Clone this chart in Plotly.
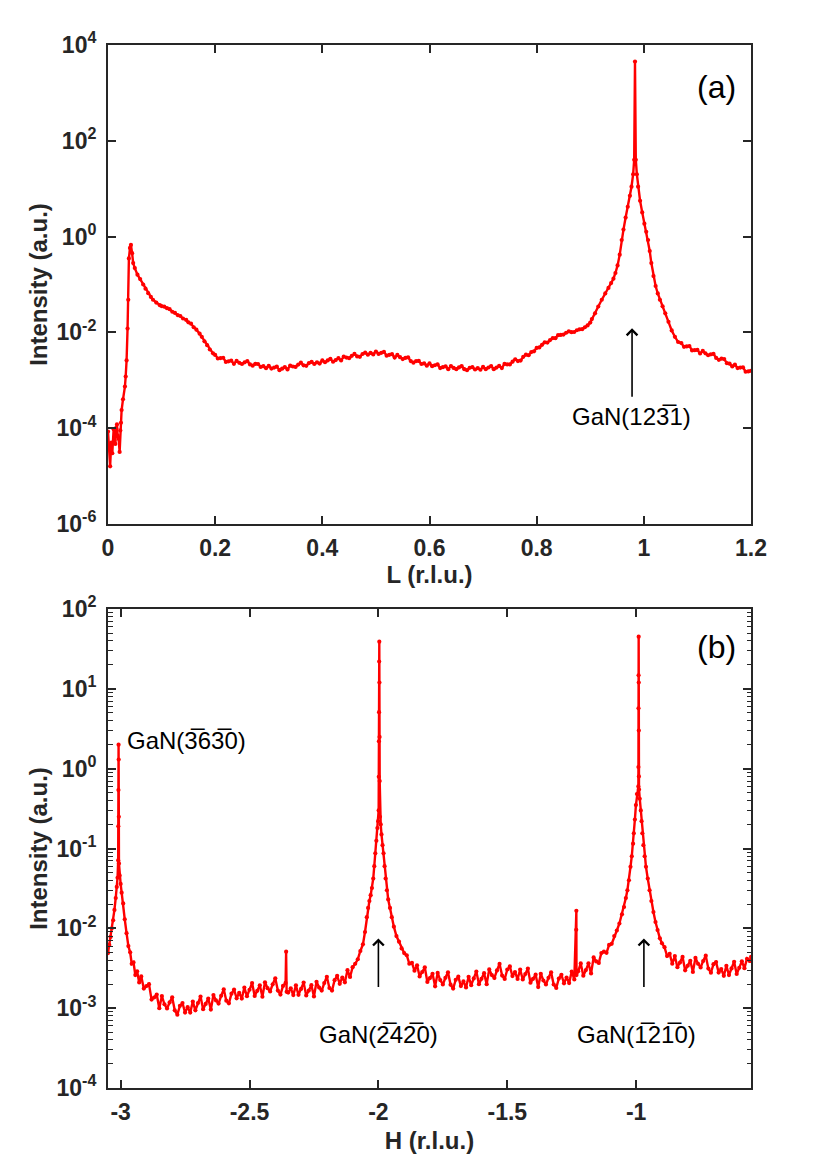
import plotly.graph_objects as go

# ---------------- Panel (a): L scan ----------------
L_a = [
    0.000, 0.002, 0.004, 0.006, 0.008, 0.0105, 0.012, 0.0136, 0.015, 0.0167,
    0.018, 0.0198, 0.0217, 0.023, 0.0242, 0.0254, 0.028, 0.0316, 0.033, 0.0347,
    0.0365, 0.0378, 0.039, 0.041, 0.0428, 0.045, 0.047, 0.050, 0.055, 0.060,
    0.0657, 0.070, 0.075, 0.080, 0.084, 0.090, 0.0967, 0.100, 0.105, 0.110,
    0.115, 0.120, 0.125, 0.130, 0.135, 0.140, 0.146, 0.150, 0.155, 0.160,
    0.165, 0.171, 0.175, 0.180, 0.185, 0.190, 0.196,
    0.200, 0.205, 0.210, 0.215, 0.220, 0.225, 0.230, 0.235, 0.240, 0.245,
    0.250, 0.255, 0.260, 0.265, 0.270, 0.275, 0.280, 0.285, 0.290, 0.295,
    0.300, 0.305, 0.310, 0.315, 0.320, 0.325, 0.330, 0.335, 0.340, 0.345,
    0.350, 0.355, 0.360, 0.365, 0.370, 0.375, 0.380, 0.385, 0.390, 0.395,
    0.400, 0.405, 0.410, 0.415, 0.420, 0.425, 0.430, 0.435, 0.440, 0.445,
    0.450, 0.455, 0.460, 0.465, 0.470, 0.475, 0.480, 0.485, 0.490, 0.495,
    0.500, 0.505, 0.510, 0.515, 0.520, 0.525, 0.530, 0.535, 0.540, 0.545,
    0.550, 0.555, 0.560, 0.565, 0.570, 0.575, 0.580, 0.585, 0.590, 0.595,
    0.600, 0.605, 0.610, 0.615, 0.620, 0.625, 0.630, 0.635, 0.640, 0.645,
    0.650, 0.655, 0.660, 0.665, 0.670, 0.675, 0.680, 0.685, 0.690, 0.695,
    0.700, 0.705, 0.710, 0.715, 0.720, 0.725, 0.730, 0.735, 0.740, 0.745,
    0.750, 0.755, 0.760, 0.765, 0.770, 0.775, 0.780, 0.785, 0.790, 0.795,
    0.800, 0.805, 0.810, 0.815, 0.820, 0.825, 0.830, 0.835, 0.840, 0.845,
    0.850, 0.855, 0.860, 0.865, 0.870, 0.875, 0.880, 0.885, 0.890, 0.895,
    0.900, 0.903, 0.909, 0.915, 0.9215, 0.928, 0.934, 0.939, 0.9433, 0.947,
    0.951, 0.955, 0.9587, 0.962, 0.966, 0.970, 0.974, 0.977, 0.980, 0.982,
    0.9835, 0.985, 0.987, 0.9893, 0.993, 0.997, 1.001, 1.0045, 1.0079, 1.011,
    1.014, 1.018, 1.022, 1.026, 1.030, 1.035, 1.040, 1.046, 1.052, 1.058,
    1.064, 1.070, 1.075, 1.080, 1.085, 1.090, 1.095, 1.100, 1.105, 1.110,
    1.115, 1.120, 1.125, 1.130, 1.135, 1.140, 1.145, 1.150, 1.155, 1.160,
    1.165, 1.170, 1.175, 1.180, 1.185, 1.190, 1.195, 1.200,
]
I_a = [
    8.5e-5, 4.0e-5, 1.6e-5, 5.0e-5, 3.0e-5, 9.5e-5, 5.5e-5, 4.7e-5, 1.0e-4, 1.2e-4,
    7.0e-5, 6.0e-5, 3.2e-5, 9.0e-5, 1.3e-4, 2.4e-4, 4.0e-4, 7.4e-4, 1.2e-3, 2.6e-3,
    1.2e-2, 4.8e-2, 3.5e-1, 5.8e-1, 6.7e-1, 4.5e-1, 2.8e-1, 2.2e-1, 1.6e-1, 1.3e-1,
    1.0e-1, 8.2e-2, 6.6e-2, 5.5e-2, 4.8e-2, 4.2e-2, 3.7e-2, 3.55e-2, 3.45e-2, 3.2e-2,
    3.05e-2, 2.7e-2, 2.55e-2, 2.3e-2, 2.2e-2, 1.95e-2, 1.82e-2, 1.62e-2, 1.52e-2, 1.28e-2,
    1.14e-2, 9.4e-3, 8.1e-3, 6.5e-3, 5.4e-3, 4.4e-3, 3.65e-3,
    3.39e-3, 2.85e-3, 2.91e-3, 2.96e-3, 2.42e-3, 2.49e-3, 2.57e-3, 2.21e-3, 2.54e-3, 2.32e-3,
    2.19e-3, 2.37e-3, 2.51e-3, 2.15e-3, 2.02e-3, 2.21e-3, 2.19e-3, 1.9e-3, 1.97e-3, 1.79e-3,
    2.01e-3, 1.76e-3, 1.84e-3, 1.93e-3, 1.63e-3, 1.75e-3, 1.89e-3, 1.69e-3, 2.03e-3, 1.94e-3,
    1.9e-3, 2.13e-3, 2.33e-3, 2.05e-3, 2.01e-3, 2.29e-3, 2.42e-3, 2.19e-3, 2.37e-3, 2.23e-3,
    2.6e-3, 2.38e-3, 2.6e-3, 2.81e-3, 2.44e-3, 2.65e-3, 2.89e-3, 2.59e-3, 3.13e-3, 2.98e-3,
    2.9e-3, 3.24e-3, 3.55e-3, 3.15e-3, 3.09e-3, 3.54e-3, 3.77e-3, 3.42e-3, 3.72e-3, 3.47e-3,
    3.99e-3, 3.55e-3, 3.75e-3, 3.92e-3, 3.27e-3, 3.4e-3, 3.51e-3, 2.98e-3, 3.39e-3, 3.04e-3,
    2.78e-3, 2.93e-3, 3.02e-3, 2.52e-3, 2.33e-3, 2.52e-3, 2.54e-3, 2.19e-3, 2.25e-3, 2.02e-3,
    2.25e-3, 1.97e-3, 2.06e-3, 2.16e-3, 1.8e-3, 1.88e-3, 1.96e-3, 1.7e-3, 1.98e-3, 1.81e-3,
    1.71e-3, 1.86e-3, 1.98e-3, 1.71e-3, 1.63e-3, 1.82e-3, 1.89e-3, 1.68e-3, 1.8e-3, 1.66e-3,
    1.9e-3, 1.71e-3, 1.85e-3, 1.98e-3, 1.71e-3, 1.84e-3, 2.0e-3, 1.8e-3, 2.2e-3, 2.14e-3,
    2.14e-3, 2.45e-3, 2.75e-3, 2.52e-3, 2.58e-3, 3.09e-3, 3.42e-3, 3.33e-3, 3.89e-3, 4.03e-3,
    4.74e-3, 4.85e-3, 5.5e-3, 6.2e-3, 6.14e-3, 6.9e-3, 7.62e-3, 7.58e-3, 8.74e-3, 8.85e-3,
    9.02e-3, 9.84e-3, 1.05e-2, 1.01e-2, 1.02e-2, 1.11e-2, 1.16e-2, 1.17e-2, 1.28e-2, 1.4e-2,
    1.6e-2, 1.9e-2, 2.5e-2, 3.47e-2, 4.8e-2, 6.5e-2, 8.5e-2, 1.07e-1, 1.32e-1, 1.74e-1,
    2.5e-1, 4.2e-1, 8.5e-1, 1.4, 2.5, 4.2, 7.1, 1.1e1, 2.0e1, 4.0e1,
    4.5e3, 4.0e1, 2.0e1, 1.1e1, 5.6, 3.2, 1.86, 1.26, 8.5e-1, 5.0e-1,
    2.8e-1, 1.5e-1, 9.3e-2, 6.5e-2, 4.8e-2, 3.5e-2, 2.5e-2, 1.66e-2, 1.1e-2, 8.1e-3,
    6.3e-3, 6.0e-3, 5.0e-3, 5.1e-3, 5.2e-3, 4.2e-3, 4.26e-3, 4.3e-3, 3.63e-3, 4.1e-3,
    3.65e-3, 3.33e-3, 3.48e-3, 3.55e-3, 2.93e-3, 2.67e-3, 2.83e-3, 2.78e-3, 2.28e-3, 2.22e-3,
    1.95e-3, 2.12e-3, 1.8e-3, 1.84e-3, 1.87e-3, 1.51e-3, 1.53e-3, 1.58e-3,
]

# ---------------- Panel (b): H scan ----------------
H_b = [
    -3.049, -3.044, -3.039, -3.034, -3.029, -3.024, -3.019, -3.015, -3.012, -3.0095,
    -3.009, -3.0085, -3.008, -3.0075, -3.007, -3.0065, -3.004, -3.000, -2.996, -2.990,
    -2.984, -2.977, -2.970, -2.963, -2.957, -2.950, -2.943, -2.936, -2.928,
    -2.920, -2.910, -2.900, -2.890, -2.880, -2.870, -2.860, -2.850, -2.840, -2.830,
    -2.820, -2.810, -2.800, -2.790, -2.780, -2.770, -2.760, -2.750, -2.740, -2.730,
    -2.720, -2.710, -2.700, -2.690, -2.680, -2.670, -2.660, -2.650, -2.640, -2.630,
    -2.620, -2.610, -2.600, -2.590, -2.580, -2.570, -2.560, -2.550, -2.540, -2.530,
    -2.520, -2.510, -2.500, -2.490, -2.480, -2.470, -2.460, -2.450, -2.440, -2.430,
    -2.420, -2.410, -2.400, -2.390, -2.380, -2.370, -2.360, -2.358, -2.356, -2.350,
    -2.340, -2.330, -2.320, -2.310, -2.300, -2.290, -2.280, -2.270, -2.260, -2.250,
    -2.240, -2.230, -2.220, -2.210, -2.200, -2.190, -2.180, -2.170, -2.160, -2.150,
    -2.140, -2.130, -2.120, -2.110, -2.100, -2.090, -2.080, -2.070, -2.060, -2.052,
    -2.045, -2.040, -2.035, -2.030, -2.025, -2.020, -2.016, -2.012, -2.008, -2.004,
    -2.001, -1.999, -1.9985, -1.998, -1.9975, -1.997, -1.9965, -1.996, -1.9955, -1.995,
    -1.994, -1.991, -1.988, -1.984, -1.980, -1.976, -1.972, -1.967, -1.962, -1.955,
    -1.948, -1.940, -1.930, -1.920, -1.910, -1.900, -1.890, -1.880, -1.870, -1.860,
    -1.850, -1.840, -1.830, -1.820, -1.810, -1.800, -1.790, -1.780, -1.770, -1.760,
    -1.750, -1.740, -1.730, -1.720, -1.710, -1.700, -1.690, -1.680, -1.670, -1.660,
    -1.650, -1.640, -1.630, -1.620, -1.610, -1.600, -1.590, -1.580, -1.570, -1.560,
    -1.550, -1.540, -1.530, -1.520, -1.510, -1.500, -1.490, -1.480, -1.470, -1.460,
    -1.450, -1.440, -1.430, -1.420, -1.410, -1.400, -1.390, -1.380, -1.370, -1.360,
    -1.350, -1.340, -1.330, -1.320, -1.310, -1.300, -1.290, -1.280, -1.270, -1.260,
    -1.250, -1.240, -1.2325, -1.232, -1.2315, -1.225, -1.215, -1.205, -1.195, -1.185,
    -1.175, -1.165, -1.155, -1.145, -1.135, -1.125, -1.115, -1.105, -1.095, -1.085,
    -1.075, -1.065, -1.055, -1.047, -1.040, -1.034, -1.028, -1.022, -1.017, -1.012,
    -1.009, -1.005, -1.001, -0.997, -0.9915, -0.9912, -0.9909, -0.9906, -0.9903, -0.9900,
    -0.9897, -0.9894, -0.989, -0.986, -0.982, -0.979, -0.976, -0.972, -0.967, -0.962,
    -0.955, -0.948, -0.941, -0.933, -0.925, -0.917, -0.908, -0.900, -0.890, -0.880,
    -0.870, -0.860, -0.850, -0.840, -0.830, -0.820, -0.810, -0.800, -0.790, -0.780,
    -0.770, -0.760, -0.750, -0.740, -0.730, -0.720, -0.710, -0.700, -0.690, -0.680,
    -0.670, -0.660, -0.650, -0.640, -0.630, -0.620, -0.610, -0.600, -0.590, -0.580,
    -0.570, -0.560, -0.554,
]
I_b = [
    4.9e-3, 6.2e-3, 7.8e-3, 1.0e-2, 1.26e-2, 1.7e-2, 2.4e-2, 3.3e-2, 4.3e-2, 7.1e-2,
    1.9e-1, 5.4e-1, 2.0, 1.3, 2.5e-1, 6.5e-2, 4.6e-2, 3.6e-2, 2.8e-2, 2.05e-2,
    1.3e-2, 8.7e-3, 6.0e-3, 5.0e-3, 3.6e-3, 3.74e-3, 2.6e-3, 2.9e-3, 2.1e-3,
    2.5e-3, 1.76e-3, 1.89e-3, 2.0e-3, 1.28e-3, 1.36e-3, 1.48e-3, 1.0e-3, 1.42e-3, 1.12e-3,
    9.9e-4, 1.18e-3, 1.37e-3, 9.4e-4, 8.3e-4, 1.07e-3, 1.16e-3, 8.8e-4, 1.03e-3, 8.8e-4,
    1.21e-3, 9.4e-4, 1.16e-3, 1.4e-3, 9.7e-4, 1.13e-3, 1.32e-3, 9.6e-4, 1.46e-3, 1.25e-3,
    1.14e-3, 1.43e-3, 1.72e-3, 1.24e-3, 1.15e-3, 1.52e-3, 1.71e-3, 1.33e-3, 1.56e-3, 1.32e-3,
    1.81e-3, 1.41e-3, 1.7e-3, 2.06e-3, 1.42e-3, 1.65e-3, 1.93e-3, 1.39e-3, 2.11e-3, 1.78e-3,
    1.62e-3, 1.99e-3, 2.37e-3, 1.66e-3, 1.48e-3, 1.9e-3, 2.07e-3, 5.1e-3, 1.6e-3, 1.57e-3,
    1.77e-3, 1.46e-3, 1.93e-3, 1.47e-3, 1.74e-3, 2.09e-3, 1.44e-3, 1.66e-3, 1.94e-3, 1.4e-3,
    2.14e-3, 1.81e-3, 1.66e-3, 2.06e-3, 2.47e-3, 1.79e-3, 1.66e-3, 2.24e-3, 2.54e-3, 2.02e-3,
    2.42e-3, 2.11e-3, 2.99e-3, 2.46e-3, 3.26e-3, 3.6e-3, 4.1e-3, 5.2e-3, 6.3e-3, 9.0e-3,
    1.38e-2, 1.8e-2, 2.2e-2, 2.6e-2, 3.2e-2, 4.2e-2, 6.0e-2, 8.7e-2, 1.25e-1, 1.8e-1,
    2.2e-1, 3.0e-1, 7.9e-1, 2.2, 5.1, 2.2e1, 3.9e1, 1.2e1, 2.5, 7.0e-1,
    2.5e-1, 2.0e-1, 1.5e-1, 1.1e-1, 8.7e-2, 6.0e-2, 4.2e-2, 3.0e-2, 2.3e-2, 1.8e-2,
    1.38e-2, 1.05e-2, 8.0e-3, 6.8e-3, 5.6e-3, 4.9e-3, 4.6e-3, 3.6e-3, 3.7e-3, 2.95e-3,
    3.45e-3, 2.5e-3, 2.84e-3, 3.25e-3, 2.13e-3, 2.38e-3, 2.69e-3, 1.88e-3, 2.76e-3, 2.25e-3,
    1.98e-3, 2.4e-3, 2.81e-3, 1.97e-3, 1.76e-3, 2.27e-3, 2.48e-3, 1.89e-3, 2.16e-3, 1.82e-3,
    2.47e-3, 1.94e-3, 2.36e-3, 2.88e-3, 2.0e-3, 2.33e-3, 2.74e-3, 2.0e-3, 3.06e-3, 2.6e-3,
    2.39e-3, 2.97e-3, 3.58e-3, 2.56e-3, 2.32e-3, 3.05e-3, 3.33e-3, 2.52e-3, 2.83e-3, 2.32e-3,
    3.05e-3, 2.29e-3, 2.68e-3, 3.13e-3, 2.08e-3, 2.33e-3, 2.63e-3, 1.84e-3, 2.7e-3, 2.22e-3,
    1.98e-3, 2.4e-3, 2.81e-3, 1.98e-3, 1.79e-3, 2.35e-3, 2.62e-3, 2.05e-3, 2.42e-3, 2.06e-3,
    2.88e-3, 2.29e-3, 9.6e-3, 1.66e-2, 2.6e-3, 2.89e-3, 3.63e-3, 2.55e-3, 3.0e-3, 3.64e-3,
    2.72e-3, 4.32e-3, 3.85e-3, 3.69e-3, 4.9e-3, 5.1e-3, 4.93e-3, 6.2e-3, 6.4e-3, 8.0e-3,
    9.4e-3, 1.15e-2, 1.5e-2, 1.85e-2, 2.4e-2, 3.0e-2, 4.0e-2, 5.9e-2, 8.0e-2, 1.15e-1,
    1.55e-1, 2.3e-1, 3.5e-1, 4.8e-1, 6.0e-1, 1.05, 5.7, 1.48e1, 4.5e1, 1.2e1,
    3.0, 8.0e-1, 5.5e-1, 4.2e-1, 3.0e-1, 2.2e-1, 1.55e-1, 1.1e-1, 8.0e-2, 5.9e-2,
    4.2e-2, 3.0e-2, 2.2e-2, 1.6e-2, 1.2e-2, 9.5e-3, 7.5e-3, 6.5e-3, 5.8e-3, 4.5e-3,
    4.8e-3, 3.6e-3, 4.5e-3, 3.26e-3, 3.73e-3, 4.38e-3, 2.98e-3, 3.4e-3, 3.92e-3, 2.84e-3,
    4.26e-3, 3.6e-3, 3.24e-3, 3.9e-3, 4.55e-3, 3.13e-3, 2.78e-3, 3.56e-3, 3.78e-3, 2.79e-3,
    3.09e-3, 2.54e-3, 3.39e-3, 2.6e-3, 3.15e-3, 3.81e-3, 2.68e-3, 3.2e-3, 3.86e-3, 3.17e-3,
    4.16e-3, 3.9e-3, 4.4e-3,
]

# ---------------- Tick labels ----------------
xa_ticks = [0, 0.2, 0.4, 0.6, 0.8, 1.0, 1.2]
xa_text = ["0", "0.2", "0.4", "0.6", "0.8", "1", "1.2"]
ya_ticks = [1e-6, 1e-4, 1e-2, 1e0, 1e2, 1e4]
ya_text = ["10<sup>-6</sup>", "10<sup>-4</sup>", "10<sup>-2</sup>",
           "10<sup>0</sup>", "10<sup>2</sup>", "10<sup>4</sup>"]
xb_ticks = [-3, -2.5, -2, -1.5, -1]
xb_text = ["-3", "-2.5", "-2", "-1.5", "-1"]
yb_ticks = [1e-4, 1e-3, 1e-2, 1e-1, 1e0, 1e1, 1e2]
yb_text = ["10<sup>-4</sup>", "10<sup>-3</sup>", "10<sup>-2</sup>", "10<sup>-1</sup>",
           "10<sup>0</sup>", "10<sup>1</sup>", "10<sup>2</sup>"]
yb_minor = [m * 10.0 ** e for e in range(-4, 2) for m in range(2, 10)]

RED = "#ff0000"
AX = "#262626"
FONT = "Liberation Sans"

fig = go.Figure()
fig.add_trace(go.Scatter(
    x=L_a, y=I_a, mode="lines+markers", xaxis="x", yaxis="y",
    line=dict(color=RED, width=2.4), marker=dict(color=RED, size=4.2),
    showlegend=False, hoverinfo="skip"))
fig.add_trace(go.Scatter(
    x=H_b, y=I_b, mode="lines+markers", xaxis="x2", yaxis="y2",
    line=dict(color=RED, width=2.4), marker=dict(color=RED, size=4.2),
    showlegend=False, hoverinfo="skip"))

tickfont = dict(family=FONT, size=23, color=AX, weight="bold")
titlefont = dict(family=FONT, size=24, color=AX, weight="bold")
common = dict(showline=True, linecolor=AX, linewidth=2, mirror="ticks",
              ticks="inside", ticklen=8, tickwidth=1.5, tickcolor=AX,
              showgrid=False, zeroline=False, tickfont=tickfont,
              tickmode="array", automargin=False)

# The page body adds an 8 px offset; the figure is sized so it fits the window.
# Plot area in window pixels: x 108..751, panels at y 45..524 and 609..1088.
W, H = 822, 1149
ML, MT = 100, 37
MR = W - (751 - 8)
MB = H - (1088 - 8)
H_AREA = H - MT - MB
W_AREA = W - ML - MR


def py(y_win):
    return ((1088 - 8) - (y_win - 8)) / H_AREA


def px(x_win):
    return ((x_win - 8) - ML) / W_AREA


fig.update_layout(
    width=W, height=H,
    margin=dict(l=ML, r=MR, t=MT, b=MB),
    paper_bgcolor="white", plot_bgcolor="white",
    xaxis=dict(domain=[0, 1], anchor="y", range=[0, 1.2],
               tickvals=xa_ticks, ticktext=xa_text, ticklabelstandoff=2,
               title=dict(text="L (r.l.u.)", font=titlefont, standoff=4), **common),
    yaxis=dict(domain=[py(524), 1.0], anchor="x", type="log",
               range=[-6, 4], tickvals=ya_ticks, ticktext=ya_text, ticklabelstandoff=5,
               title=dict(text="Intensity (a.u.)", font=titlefont, standoff=2), **common),
    xaxis2=dict(domain=[0, 1], anchor="y2", range=[-3.049, -0.5545],
                tickvals=xb_ticks, ticktext=xb_text, ticklabelstandoff=2,
                title=dict(text="H (r.l.u.)", font=titlefont, standoff=9), **common),
    yaxis2=dict(domain=[0, py(609)], anchor="x2", type="log",
                range=[-4, 2], tickvals=yb_ticks, ticktext=yb_text, ticklabelstandoff=5,
                minor=dict(tickmode="array", tickvals=yb_minor, ticks="inside",
                           ticklen=4.5, tickwidth=1.2, tickcolor=AX, showgrid=False),
                title=dict(text="Intensity (a.u.)", font=titlefont, standoff=2), **common),
)

txtfont = dict(family=FONT, size=24, color="black")
OV = "\u0305"
arrow = dict(text="", showarrow=True, arrowhead=4, arrowsize=1.3, arrowwidth=1.6,
             arrowcolor="black", standoff=0, startstandoff=0)
annotations = [
    # panel labels
    dict(x=px(738), y=py(87.5), xref="paper", yref="paper",
         xanchor="right", yanchor="middle", text="(a)", showarrow=False,
         font=dict(family=FONT, size=32, color="black")),
    dict(x=px(738), y=py(646.5), xref="paper", yref="paper",
         xanchor="right", yanchor="middle", text="(b)", showarrow=False,
         font=dict(family=FONT, size=32, color="black")),
    # panel (a) arrow and label
    dict(x=0.978, y=-1.915, ax=0.978, ay=-3.376, xref="x", yref="y", axref="x", ayref="y", **arrow),
    dict(x=0.977, y=-3.76, xref="x", yref="y", text="GaN(123" + OV + "1)", showarrow=False,
         xanchor="center", yanchor="middle", font=txtfont),
    # panel (b)
    dict(x=-2.0, y=-2.127, ax=-2.0, ay=-2.753, xref="x2", yref="y2", axref="x2", ayref="y2", **arrow),
    dict(x=-0.970, y=-2.127, ax=-0.970, ay=-2.753, xref="x2", yref="y2", axref="x2", ayref="y2", **arrow),
    dict(x=-1.998, y=-3.33, xref="x2", yref="y2", text="GaN(2" + OV + "42" + OV + "0)",
         showarrow=False, xanchor="center", yanchor="middle", font=txtfont),
    dict(x=-1.0, y=-3.33, xref="x2", yref="y2", text="GaN(1" + OV + "21" + OV + "0)",
         showarrow=False, xanchor="center", yanchor="middle", font=txtfont),
    dict(x=-2.983, y=0.358, xref="x2", yref="y2", text="GaN(3" + OV + "63" + OV + "0)",
         showarrow=False, xanchor="left", yanchor="middle", font=txtfont),
]
fig.update_layout(annotations=annotations)

fig.write_html("out.html")
